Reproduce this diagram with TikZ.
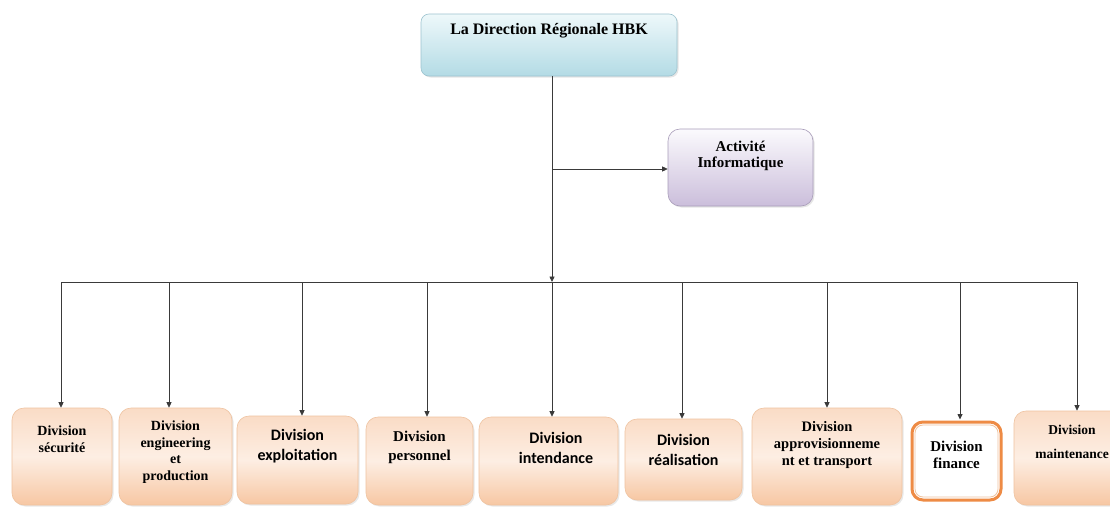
\documentclass[tikz,border=0pt]{standalone}
\usepackage{fontspec}
\setmainfont{Liberation Serif}
\newfontfamily\calfont{Carlito}
\usetikzlibrary{arrows.meta,shadows}
\definecolor{peachtop}{HTML}{FADCC6}
\definecolor{peachmid}{HTML}{FDEEE3}
\definecolor{peachbot}{HTML}{F7C7A3}
\definecolor{peachline}{HTML}{EFC3A0}
\definecolor{bluetop}{HTML}{EEF8FA}
\definecolor{bluebot}{HTML}{B3DBE5}
\definecolor{blueline}{HTML}{9CC3CF}
\definecolor{lavtop}{HTML}{FBFAFD}
\definecolor{lavbot}{HTML}{CBBEDB}
\definecolor{lavline}{HTML}{A89CB9}
\definecolor{finorange}{HTML}{EE8B45}
\definecolor{linecol}{HTML}{3A3A3A}
\begin{document}
\begin{tikzpicture}[x=1pt,y=-1pt,
  divbox/.style={draw=peachline, line width=0.6pt, rounded corners=12pt,
    top color=peachtop, bottom color=peachbot, middle color=peachmid,
    drop shadow={opacity=0.18,shadow xshift=1.5pt,shadow yshift=-1.5pt}, inner sep=0pt},
  topbox/.style={draw=blueline, line width=0.6pt, rounded corners=8pt,
    top color=bluetop, bottom color=bluebot,
    drop shadow={opacity=0.2,shadow xshift=1.5pt,shadow yshift=-1.5pt}, inner sep=0pt},
  actbox/.style={draw=lavline, line width=0.6pt, rounded corners=12pt,
    top color=lavtop, bottom color=lavbot,
    drop shadow={opacity=0.2,shadow xshift=1.5pt,shadow yshift=-1.5pt}, inner sep=0pt},
  finbox/.style={draw=finorange, line width=3pt, rounded corners=11pt, fill=white, inner sep=0pt},
  tnr/.style={font=\bfseries\fontsize{14}{16.5}\selectfont, align=center, inner sep=0pt},
  cal/.style={font=\calfont\bfseries\fontsize{16}{20}\selectfont, align=center, inner sep=0pt},
  conn/.style={draw=linecol, line width=0.8pt},
  arr/.style={conn, -{Triangle[length=5.5pt,width=5pt]}}
]
\clip (0,0) rectangle (1110,506);
\fill[white] (0,0) rectangle (1110,506);

% top boxes
\node[topbox, minimum width=256pt, minimum height=62pt] (top) at (549,45) {};
\node[tnr, font=\bfseries\fontsize{16}{19}\selectfont] (toptxt) at (549,31) {La Direction Régionale HBK};
\node[actbox, minimum width=145pt, minimum height=77pt] (act) at (740.5,167.5) {};
\node[tnr, font=\bfseries\fontsize{15}{16}\selectfont] (acttxt) at (740.5,156) {Activité\\Informatique};

% division boxes
\node[divbox, minimum width=100pt, minimum height=97pt] (secu) at (62,456.5) {};
\node[tnr] (secutxt) at (62,439) {Division\\sécurité};
\node[divbox, minimum width=113pt, minimum height=97pt] (engi) at (175.5,456.5) {};
\node[tnr] (engitxt) at (175.5,452) {Division\\engineering\\et\\production};
\node[divbox, minimum width=121pt, minimum height=88pt] (expl) at (297.5,460) {};
\node[cal] (expltxt) at (297.5,446) {Division\\exploitation};
\node[divbox, minimum width=107pt, minimum height=88pt] (pers) at (419.5,461) {};
\node[tnr, font=\bfseries\fontsize{15}{19}\selectfont] (perstxt) at (419.5,447) {Division\\personnel};
\node[divbox, minimum width=139pt, minimum height=88pt] (inte) at (548.5,461) {};
\node[cal] (intetxt) at (556,447.5) {Division\\intendance};
\node[divbox, minimum width=117pt, minimum height=81pt] (real) at (683.5,459.5) {};
\node[cal] (realtxt) at (683.5,449.5) {Division\\réalisation};
\node[divbox, minimum width=150pt, minimum height=97pt] (appr) at (827,456.5) {};
\node[tnr, font=\bfseries\fontsize{14.5}{17}\selectfont] (apprtxt) at (827,445) {Division\\approvisionneme\\nt et transport};
\node[finbox, minimum width=89pt, minimum height=78pt] (fina) at (956.5,461) {};
\draw[peachline, line width=0.8pt, rounded corners=8pt]
  ([shift={(4.5,4.5)}]fina.north west) rectangle ([shift={(-4.5,-4.5)}]fina.south east);
\node[tnr, font=\bfseries\fontsize{15}{17}\selectfont] (finatxt) at (956.5,455) {Division\\finance};
\node[divbox, minimum width=116pt, minimum height=94pt] (main) at (1072,458) {};
\node[tnr, font=\bfseries\fontsize{13.5}{16}\selectfont] (maintxt) at (1072,442) {Division\\[8pt]maintenance};

% connectors
\coordinate (j) at (552,282);
\coordinate (k) at (552,169);
\coordinate (b1) at (61,282);
\coordinate (b2) at (169,282);
\coordinate (b3) at (302,282);
\coordinate (b4) at (427,282);
\coordinate (b6) at (682,282);
\coordinate (b7) at (827,282);
\coordinate (b8) at (960,282);
\coordinate (b9) at (1077,282);

\draw[arr] (top.south -| j) -- (j);
\draw[arr] (k) -- (k -| act.west);
\draw[conn] (b1) -- (b9);
\draw[arr] (b1) -- (b1 |- secu.north);
\draw[arr] (b2) -- (b2 |- engi.north);
\draw[arr] (b3) -- (b3 |- expl.north);
\draw[arr] (b4) -- (b4 |- pers.north);
\draw[arr] (j) -- (j |- inte.north);
\draw[arr] (b6) -- (b6 |- real.north);
\draw[arr] (b7) -- (b7 |- appr.north);
\draw[arr] (b8) -- ([yshift=1pt]b8 |- fina.north);
\draw[arr] (b9) -- (b9 |- main.north);
\end{tikzpicture}
\end{document}
